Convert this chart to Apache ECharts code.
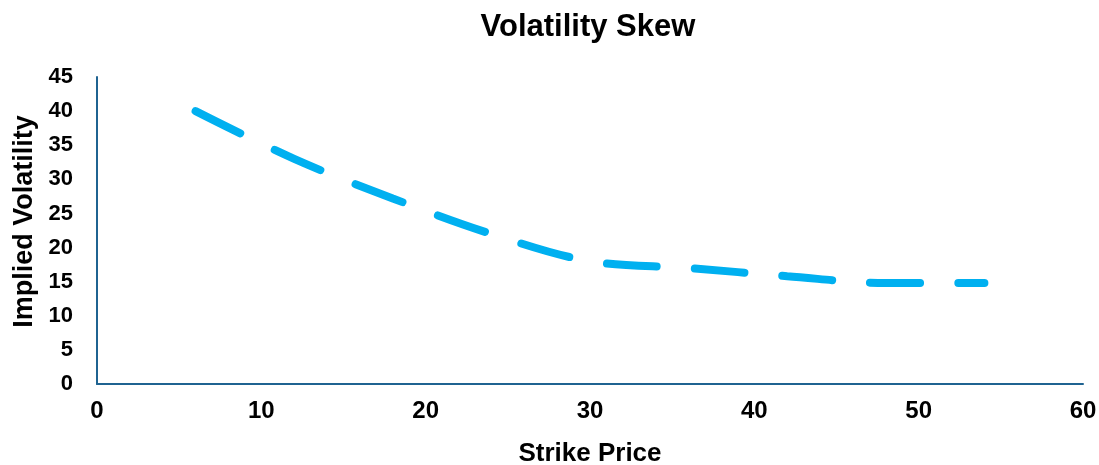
<!DOCTYPE html>
<html>
<head>
<meta charset="utf-8">
<script src="https://cdn.jsdelivr.net/npm/echarts@6/dist/echarts.min.js"></script>
<style>html,body{margin:0;padding:0;background:#fff;}#c{width:1099px;height:465px;}</style>
</head>
<body>
<div id="c"></div>
<script>
const strikes = [6, 12, 18, 24, 30, 36, 42, 48, 54];
const impliedVol = [40, 33, 27.2, 22, 18, 17, 15.8, 14.8, 14.8];
const titleText = 'Volatility Skew';
const xName = 'Strike Price';
const yName = 'Implied Volatility';

const chart = echarts.init(document.getElementById('c'));
const font = 'Liberation Sans, Arial, sans-serif';
chart.setOption({
  animation: false,
  backgroundColor: '#ffffff',
  title: {
    text: titleText, left: 583, top: 7, textAlign: 'center',
    textStyle: { fontFamily: font, fontWeight: 'bold', fontSize: 31, color: '#000' }
  },
  grid: { left: 97, right: 16, top: 77, bottom: 81, containLabel: false, outerBoundsMode: 'none' },
  xAxis: {
    type: 'value', min: 0, max: 60, interval: 10,
    name: xName, nameLocation: 'middle', nameGap: 57,
    nameTextStyle: { fontFamily: font, fontWeight: 'bold', fontSize: 26, color: '#000' },
    axisLine: { show: true, lineStyle: { color: '#1F6391', width: 2 } },
    axisTick: { show: false },
    splitLine: { show: false },
    axisLabel: { fontFamily: font, fontWeight: 'bold', fontSize: 24, color: '#000', margin: 15 }
  },
  yAxis: {
    type: 'value', min: 0, max: 45, interval: 5,
    name: yName, nameLocation: 'middle', nameGap: 58,
    nameTextStyle: { fontFamily: font, fontWeight: 'bold', fontSize: 27, color: '#000', padding: [0, 0, 0, 18] },
    axisLine: { show: true, lineStyle: { color: '#1F6391', width: 2 } },
    axisTick: { show: false },
    splitLine: { show: false },
    axisLabel: { fontFamily: font, fontWeight: 'bold', fontSize: 22, color: '#000', margin: 24 }
  },
  series: [{
    type: 'line',
    data: strikes.map((s, i) => [s, impliedVol[i]]),
    smooth: 0.35,
    showSymbol: false,
    lineStyle: { color: '#00B0F0', width: 8, type: [50, 38], cap: 'round' }
  }]
});
</script>
</body>
</html>
